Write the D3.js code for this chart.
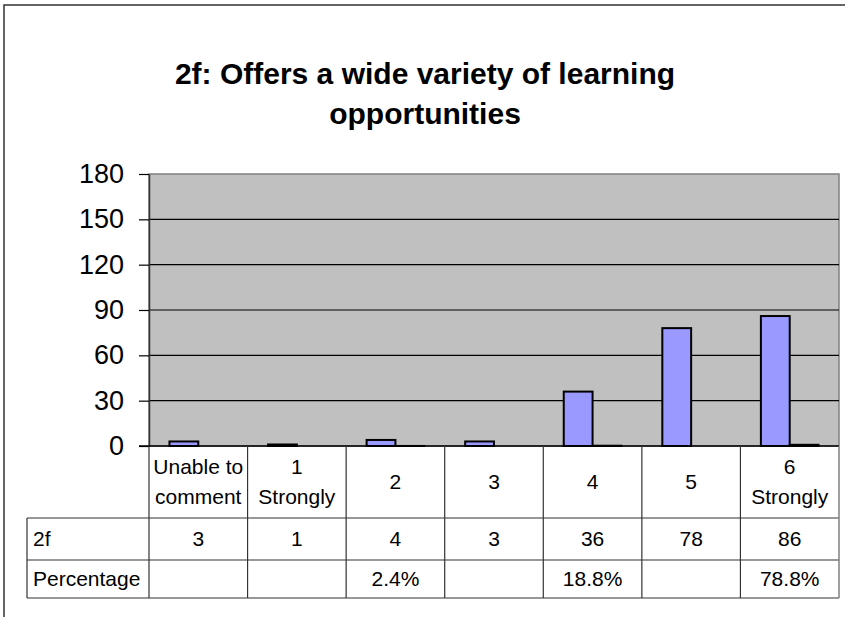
<!DOCTYPE html>
<html>
<head>
<meta charset="utf-8">
<script src="https://cdn.jsdelivr.net/npm/d3@7/dist/d3.min.js"></script>
<style>
  body { margin: 0; background: #fff; }
  svg { display: block; font-family: Arial, "Liberation Sans", sans-serif; }
</style>
</head>
<body>
<svg width="845" height="617"></svg>
<script>
// data
var categories = [["Unable to", "comment"], ["1", "Strongly"], ["2"], ["3"], ["4"], ["5"], ["6", "Strongly"]];
var seriesNames = ["2f", "Percentage"];
var values2f = [3, 1, 4, 3, 36, 78, 86];
var percentValues = [null, null, 0.024, null, 0.188, null, 0.788];
var percentLabels = ["", "", "2.4%", "", "18.8%", "", "78.8%"];
var yTicks = [0, 30, 60, 90, 120, 150, 180];

var svg = d3.select("svg");

// layout
var plotLeft = 149, plotRight = 839, plotTop = 174, plotBottom = 446;
var rowBottoms = [518, 560, 598];
var labelLeft = 27;

var x = d3.scaleBand().domain(d3.range(categories.length)).range([plotLeft, plotRight]);
var xs = d3.scaleBand().domain(seriesNames).range([0, x.bandwidth()]).paddingInner(0).paddingOuter(0.71);
var y = d3.scaleLinear().domain([0, 180]).range([plotBottom, plotTop]);
var colors = { "2f": "#9999ff", "Percentage": "#993366" };

// outer chart border (cropped)
svg.append("path")
  .attr("d", "M4,617V5H845")
  .attr("fill", "none")
  .attr("stroke", "#333")
  .attr("stroke-width", 1.5);

// title
var title = svg.append("text")
  .attr("text-anchor", "middle")
  .attr("font-weight", "bold")
  .attr("font-size", 30);
title.append("tspan").attr("x", 425).attr("y", 84).text("2f: Offers a wide variety of learning");
title.append("tspan").attr("x", 425).attr("y", 124).text("opportunities");

// plot area
svg.append("rect")
  .attr("x", plotLeft).attr("y", plotTop)
  .attr("width", plotRight - plotLeft).attr("height", plotBottom - plotTop)
  .attr("fill", "#c0c0c0")
  .attr("stroke", "#808080")
  .attr("stroke-width", 1.5);

// gridlines
svg.append("g")
  .selectAll("line")
  .data(yTicks.filter(function (d) { return d > 0 && d < 180; }))
  .enter().append("line")
  .attr("x1", plotLeft).attr("x2", plotRight)
  .attr("y1", function (d) { return y(d); })
  .attr("y2", function (d) { return y(d); })
  .attr("stroke", "#000")
  .attr("stroke-width", 1.2);

// bars
var groups = svg.append("g").selectAll("g")
  .data(categories.map(function (c, i) { return i; }))
  .enter().append("g")
  .attr("transform", function (i) { return "translate(" + x(i) + ",0)"; });

groups.selectAll("rect")
  .data(function (i) {
    return [{ s: "2f", v: values2f[i] }, { s: "Percentage", v: percentValues[i] }]
      .filter(function (d) { return d.v != null; });
  })
  .enter().append("rect")
  .attr("x", function (d) { return xs(d.s); })
  .attr("width", xs.bandwidth())
  .attr("y", function (d) { return y(d.v); })
  .attr("height", function (d) { return y(0) - y(d.v); })
  .attr("fill", function (d) { return colors[d.s]; })
  .attr("stroke", "#000")
  .attr("stroke-width", 2);

// y axis
var yAxis = svg.append("g")
  .attr("transform", "translate(" + plotLeft + ",0)")
  .call(d3.axisLeft(y).tickValues(yTicks).tickSize(10).tickSizeOuter(0).tickPadding(15));
yAxis.select(".domain").attr("stroke", "#333").attr("stroke-width", 1.5);
yAxis.selectAll(".tick line").attr("stroke", "#000").attr("stroke-width", 1.2);
yAxis.selectAll(".tick text")
  .attr("font-size", 27)
  .attr("font-family", "Arial, 'Liberation Sans', sans-serif")
  .attr("fill", "#000");

// data table
var table = svg.append("g").attr("font-size", 21).attr("fill", "#000");
var lineColor = "#333";

// category axis line
table.append("line")
  .attr("x1", plotLeft - 10).attr("x2", plotRight)
  .attr("y1", plotBottom).attr("y2", plotBottom)
  .attr("stroke", "#000").attr("stroke-width", 1.5);

// horizontal table lines
table.selectAll("line.row")
  .data(rowBottoms)
  .enter().append("line")
  .attr("class", "row")
  .attr("x1", labelLeft)
  .attr("x2", plotRight)
  .attr("y1", function (d) { return d; })
  .attr("y2", function (d) { return d; })
  .attr("stroke", lineColor).attr("stroke-width", 1.2);

// vertical lines
var vx = d3.range(categories.length + 1).map(function (i) { return plotLeft + i * x.step(); });
table.selectAll("line.col")
  .data(vx)
  .enter().append("line")
  .attr("class", "col")
  .attr("x1", function (d) { return d; }).attr("x2", function (d) { return d; })
  .attr("y1", plotBottom).attr("y2", rowBottoms[2])
  .attr("stroke", function (d, i) { return i === vx.length - 1 ? "#808080" : lineColor; })
  .attr("stroke-width", function (d, i) { return i === vx.length - 1 ? 1.5 : 1.2; });
table.append("line")
  .attr("x1", labelLeft).attr("x2", labelLeft)
  .attr("y1", rowBottoms[0]).attr("y2", rowBottoms[2])
  .attr("stroke", lineColor).attr("stroke-width", 1.2);

// header labels
table.selectAll("text.cat")
  .data(categories)
  .enter().append("text")
  .attr("class", "cat")
  .attr("text-anchor", "middle")
  .each(function (lines, i) {
    var cx = x(i) + x.bandwidth() / 2;
    var cy = (plotBottom + rowBottoms[0]) / 2;
    var lh = 30;
    var y0 = cy - (lines.length - 1) * lh / 2 + 7;
    d3.select(this).selectAll("tspan")
      .data(lines)
      .enter().append("tspan")
      .attr("x", cx)
      .attr("y", function (d, j) { return y0 + j * lh; })
      .text(function (d) { return d; });
  });

// row labels
var rowMid = [(rowBottoms[0] + rowBottoms[1]) / 2, (rowBottoms[1] + rowBottoms[2]) / 2];
table.selectAll("text.rowlabel")
  .data(seriesNames)
  .enter().append("text")
  .attr("class", "rowlabel")
  .attr("x", labelLeft + 6)
  .attr("y", function (d, i) { return rowMid[i] + 7; })
  .text(function (d) { return d; });

// row values
var rowValues = [values2f.map(String), percentLabels];
rowValues.forEach(function (vals, r) {
  table.selectAll("text.val" + r)
    .data(vals)
    .enter().append("text")
    .attr("class", "val" + r)
    .attr("text-anchor", "middle")
    .attr("x", function (d, i) { return x(i) + x.bandwidth() / 2; })
    .attr("y", rowMid[r] + 7)
    .text(function (d) { return d; });
});
</script>
</body>
</html>
